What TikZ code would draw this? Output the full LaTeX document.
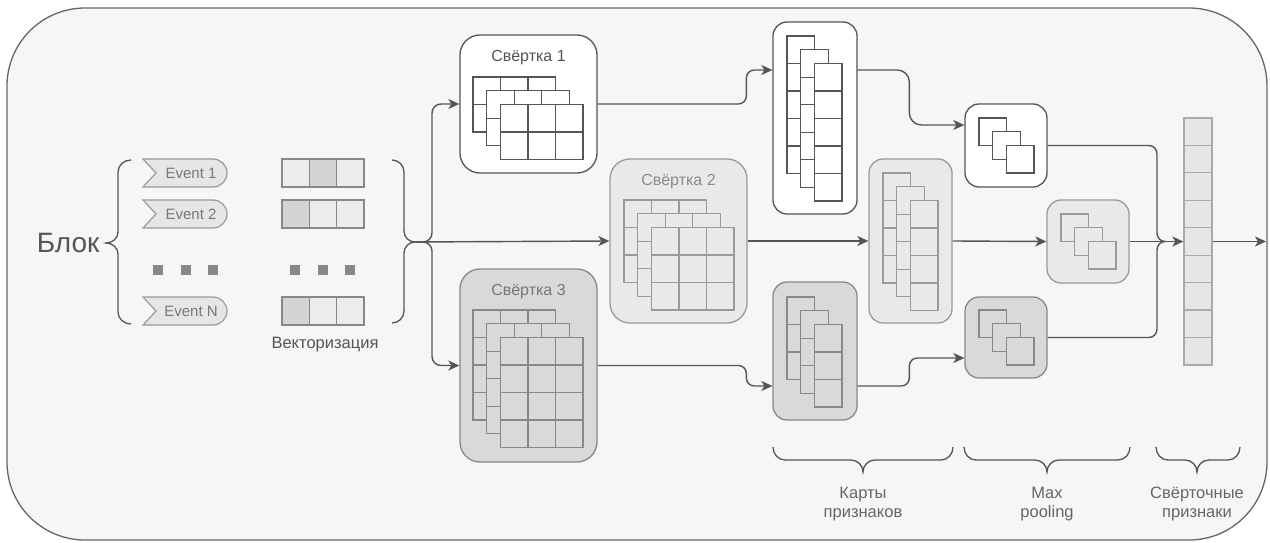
\documentclass[tikz,border=0pt]{standalone}
\usepackage{fontspec}
\setmainfont{Liberation Sans}
\usetikzlibrary{arrows.meta}
\definecolor{bgc}{HTML}{F5F6F6}
\definecolor{frameC}{HTML}{666666}
\definecolor{lineC}{HTML}{555555}
\definecolor{lightFill}{HTML}{E9E9E9}
\definecolor{lightLine}{HTML}{9A9A9A}
\definecolor{darkFill}{HTML}{D9D9D9}
\definecolor{darkLine}{HTML}{888888}
\definecolor{vecFill}{HTML}{E6E6E6}
\definecolor{vecLine}{HTML}{AAAAAA}
\definecolor{cellLight}{HTML}{ECECEC}
\definecolor{cellDark}{HTML}{D4D4D4}
\definecolor{txtDark}{HTML}{555555}
\definecolor{txtMid}{HTML}{777777}
\definecolor{txtLight}{HTML}{8A8A8A}
\newcommand{\fs}[1]{\fontsize{#1pt}{#1pt}\selectfont}
% grid: x0, y0, cols, rows, fill, draw
\newcommand{\cellgrid}[6]{%
  \filldraw[fill=#5,draw=#6,line width=1.2pt] (#1,#2) rectangle ({#1+#3*27.5},{#2+#4*27.5});
  \ifnum#3>1 \foreach \ci in {2,...,#3}{\draw[draw=#6,line width=1.2pt] ({#1+(\ci-1)*27.5},{#2}) -- ++(0,#4*27.5);}\fi
  \ifnum#4>1 \foreach \cj in {2,...,#4}{\draw[draw=#6,line width=1.2pt] ({#1},{#2+(\cj-1)*27.5}) -- ++(#3*27.5,0);}\fi
}
% three stacked grids: x0,y0,cols,rows,fill,draw
\newcommand{\stackgrid}[6]{%
  \cellgrid{#1}{#2}{#3}{#4}{#5}{#6}
  \cellgrid{#1+13.75}{#2+13.75}{#3}{#4}{#5}{#6}
  \cellgrid{#1+27.5}{#2+27.5}{#3}{#4}{#5}{#6}
}
\begin{document}
\begin{tikzpicture}[x=1pt,y=-1pt,
  frame/.style={draw=frameC,fill=bgc,line width=1.3pt,rounded corners=78pt},
  box/.style={rectangle,line width=1.3pt,inner sep=0pt},
  boxW/.style={box,draw=lineC,fill=white},
  boxL/.style={box,draw=lightLine,fill=lightFill},
  boxD/.style={box,draw=darkLine,fill=darkFill},
  bigR/.style={rounded corners=20pt},
  smR/.style={rounded corners=14pt},
  conn/.style={draw=lineC,line width=1.4pt},
  arr/.style={conn,-{Stealth[length=11pt,width=10pt,inset=3pt]}},
  brace/.style={draw=lineC,line width=1.3pt},
  evshape/.style={draw=lightLine,fill=vecFill,line width=1.2pt},
  evtext/.style={text=txtMid,font=\fs{15}},
  title/.style={font=\fs{16}},
  label/.style={text=txtDark,font=\fs{16.5},align=center},
  vcell/.style={draw=darkLine,line width=1.2pt}
]
\useasboundingbox (0,0) rectangle (1270,543);
\draw[frame] (7,8) rectangle (1267,540);

% Block label and brace
\node[anchor=east,text=txtDark,font=\fs{28}] (blok) at (103,243) {Блок};
\draw[brace] (131,160) to[out=180,in=90] (118,172) -- (118,232) to[out=-90,in=0] (106,243)
  to[out=0,in=90] (118,254) -- (118,312) to[out=-90,in=180] (131,324);

% events
\foreach \y/\t/\n in {173/Event 1/e1, 214/Event 2/e2, 311/Event N/eN}{
  \filldraw[evshape] (143,\y-14) -- (213,\y-14) arc[start angle=90,end angle=-90,radius=14pt]
     -- (143,\y+14) -- (156,\y) -- cycle;
  \node[evtext] (\n) at (191,\y) {\t};
}
% dots
\foreach \x in {158,185.5,213,295,322.5,350}{
  \fill[darkLine] (\x-5,265) rectangle (\x+5,275);
}
% vectors
\foreach \y/\fa/\fb/\fc in {173/cellLight/cellDark/cellLight, 214/cellDark/cellLight/cellLight, 311/cellDark/cellLight/cellLight}{
  \filldraw[vcell,fill=\fa] (282,\y-14) rectangle (309.3,\y+14);
  \filldraw[vcell,fill=\fb] (309.3,\y-14) rectangle (336.6,\y+14);
  \filldraw[vcell,fill=\fc] (336.6,\y-14) rectangle (364,\y+14);
}
\node[label] (vecl) at (325,345) {Векторизация};
\draw[brace] (392,160) to[out=0,in=90] (404,172) -- (404,231) to[out=-90,in=180] (415,242)
  to[out=180,in=90] (404,253) -- (404,311) to[out=-90,in=0] (392,323);
\coordinate (bl) at (415,242);
\coordinate (split) at (432,242);

% convolution boxes
\node[boxW,bigR,minimum width=137pt,minimum height=138pt] (c1) at (528.5,104) {};
\node[boxL,bigR,minimum width=137pt,minimum height=164pt] (c2) at (678.5,241) {};
\node[boxD,bigR,minimum width=137pt,minimum height=193pt] (c3) at (528.5,365.5) {};
\node[title,text=txtDark] (t1) at (528.5,58) {Свёртка 1};
\node[title,text=txtLight] (t2) at (678.5,182) {Свёртка 2};
\node[title,text=txtMid] (t3) at (528.5,292) {Свёртка 3};
\stackgrid{473}{77}{3}{2}{white}{lineC}
\stackgrid{624}{200}{3}{3}{lightFill}{lightLine}
\stackgrid{473}{310}{3}{4}{darkFill}{darkLine}

% feature maps
\node[boxW,smR,minimum width=84pt,minimum height=192pt] (f1) at (815,118) {};
\node[boxL,smR,minimum width=83pt,minimum height=164pt] (f2) at (910.5,241) {};
\node[boxD,smR,minimum width=84pt,minimum height=138pt] (f3) at (815,351) {};
\stackgrid{787}{36}{1}{5}{white}{lineC}
\stackgrid{883}{173}{1}{4}{lightFill}{lightLine}
\stackgrid{787}{297}{1}{3}{darkFill}{darkLine}

% pooling
\node[boxW,smR,minimum width=82pt,minimum height=83pt] (p1) at (1006,145.5) {};
\node[boxL,smR,minimum width=82pt,minimum height=83pt] (p2) at (1088,241.5) {};
\node[boxD,smR,minimum width=82pt,minimum height=81pt] (p3) at (1006,337.5) {};
\stackgrid{979}{118}{1}{1}{white}{lineC}
\stackgrid{1061}{214}{1}{1}{lightFill}{lightLine}
\stackgrid{979}{310}{1}{1}{darkFill}{darkLine}

% output vector
\node[box,draw=vecLine,fill=vecFill,minimum width=28pt,minimum height=247pt] (vec) at (1198,241.5) {};
\foreach \k in {1,...,8}{
  \draw[draw=vecLine,line width=1.2pt] (1184,118+\k*27.44) -- (1212,118+\k*27.44);
}
\coordinate (outp) at (1266,241.5);

% connectors
\draw[arr] (bl) -- (c2.west);
\draw[arr,rounded corners=9pt] (bl) -- (split) |- (c1.west);
\draw[arr,rounded corners=9pt] (bl) -- (split) |- (c3.west);

\coordinate (f1in) at ([yshift=48pt]f1.west);
\coordinate (f1out) at ([yshift=48pt]f1.east);
\coordinate (f3in) at ([yshift=-35pt]f3.west);
\coordinate (f3out) at ([yshift=-35pt]f3.east);
\coordinate (p1in) at ([yshift=20.5pt]p1.west);
\coordinate (p3in) at ([yshift=-20.5pt]p3.west);

\draw[arr,rounded corners=8pt] (c1.east) -| ([xshift=-26pt]f1in) -- (f1in);
\draw[arr] (c2.east) -- (f2.west);
\draw[arr,rounded corners=8pt] (c3.east) -| ([xshift=-26pt]f3in) -- (f3in);

\draw[arr,rounded corners=12pt] (f1out) -| ([xshift=-55pt]p1in) -- (p1in);
\draw[arr] (f2.east) -- (p2.west);
\draw[arr,rounded corners=8pt] (f3out) -| ([xshift=-55pt]p3in) -- (p3in);

\draw[conn] (p1.east) -- (1149,145.5) to[out=0,in=90] (1157,154) -- (1157,233)
  to[out=-90,in=180] (1165,241.5) to[out=180,in=90] (1157,250) -- (1157,329)
  to[out=-90,in=0] (1149,337.5) -- (p3.east);
\draw[arr] (p2.east) -- (vec.west);
\draw[arr] (vec.east) -- (outp);

% bottom braces
\draw[brace] (773,447) to[out=-90,in=180] (785,460) -- (851,460) to[out=0,in=90] (863,472)
  to[out=90,in=180] (875,460) -- (941,460) to[out=0,in=-90] (953,447);
\draw[brace] (964,447) to[out=-90,in=180] (976,460) -- (1035,460) to[out=0,in=90] (1047,472)
  to[out=90,in=180] (1059,460) -- (1118,460) to[out=0,in=-90] (1130,447);
\draw[brace] (1156,447) to[out=-90,in=180] (1168,460) -- (1185,460) to[out=0,in=90] (1197,472)
  to[out=90,in=180] (1209,460) -- (1228,460) to[out=0,in=-90] (1240,447);
\node[label,text=frameC] (lb1) at (863,504) {Карты\\[2pt]признаков};
\node[label,text=frameC] (lb2) at (1047,504) {Max\\[2pt]pooling};
\node[label,text=frameC] (lb3) at (1197,504) {Свёрточные\\[2pt]признаки};
\end{tikzpicture}
\end{document}
